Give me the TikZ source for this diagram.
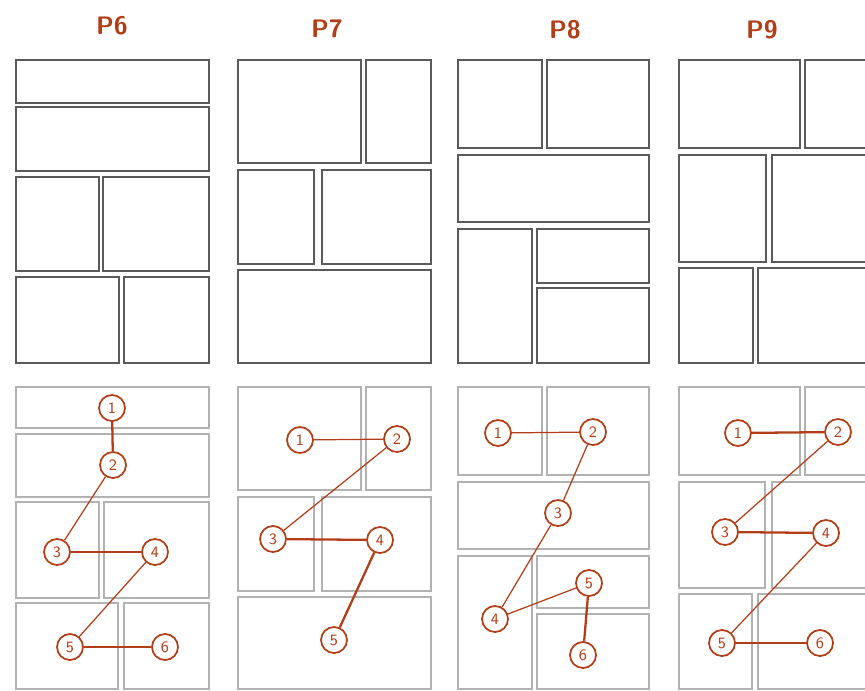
\documentclass[tikz,border=0pt]{standalone}
\usepackage{tikz}
\usetikzlibrary{positioning}
\definecolor{inkred}{RGB}{178,62,24}
\definecolor{frameA}{RGB}{90,90,90}
\definecolor{frameB}{RGB}{178,178,178}
\tikzset{
  pageln/.style={line width=1.2pt, frameA},
  thumbln/.style={line width=0.75pt, frameB},
  numc/.style={circle, draw=inkred, fill=white, line width=1pt, minimum size=0.52cm,
    inner sep=0pt, text=inkred, font=\sffamily\small},
  linkln/.style={inkred, line width=0.7pt},
  linkbold/.style={inkred, line width=1.3pt},
  pglabel/.style={text=inkred, font=\sffamily\Large\bfseries},
}
\newcommand{\pnl}[5]{\draw[#1] (#2,#3) rectangle (#4,#5);}

\begin{document}
\begin{tikzpicture}[x=0.02cm, y=-0.02cm]
    \useasboundingbox[fill=white] (0,0) rectangle (865,690);
    \clip (0,0) rectangle (865,690);
    % page labels
    \node[pglabel] (lab6) at (112,26) {P6};
    \node[pglabel] (lab7) at (327,29) {P7};
    \node[pglabel] (lab8) at (565,30) {P8};
    \node[pglabel] (lab9) at (762,30) {P9};
    % top row: page layouts
    \pnl{pageln}{16}{60}{209}{103}
    \pnl{pageln}{16}{107}{209}{171}
    \pnl{pageln}{16}{177}{99}{271}
    \pnl{pageln}{103}{177}{209}{271}
    \pnl{pageln}{16}{277}{119}{363}
    \pnl{pageln}{124}{277}{209}{363}
    \pnl{pageln}{238}{60}{361}{163}
    \pnl{pageln}{366}{60}{431}{163}
    \pnl{pageln}{238}{170}{314}{264}
    \pnl{pageln}{322}{170}{431}{264}
    \pnl{pageln}{238}{270}{431}{363}
    \pnl{pageln}{458}{60}{542}{148}
    \pnl{pageln}{547}{60}{649}{148}
    \pnl{pageln}{458}{155}{649}{222}
    \pnl{pageln}{458}{229}{532}{363}
    \pnl{pageln}{537}{229}{649}{283}
    \pnl{pageln}{537}{288}{649}{363}
    \pnl{pageln}{679}{60}{800}{148}
    \pnl{pageln}{805}{60}{890}{148}
    \pnl{pageln}{679}{155}{766}{262}
    \pnl{pageln}{772}{155}{890}{262}
    \pnl{pageln}{679}{268}{753}{363}
    \pnl{pageln}{758}{268}{890}{363}
    % bottom row: same pages, lighter
    \pnl{thumbln}{16}{387}{209}{428}
    \pnl{thumbln}{16}{434}{209}{497}
    \pnl{thumbln}{16}{502}{99}{598}
    \pnl{thumbln}{104}{502}{209}{598}
    \pnl{thumbln}{16}{603}{118}{689}
    \pnl{thumbln}{124}{603}{209}{689}
    \pnl{thumbln}{238}{387}{361}{490}
    \pnl{thumbln}{366}{387}{431}{490}
    \pnl{thumbln}{238}{497}{314}{591}
    \pnl{thumbln}{322}{497}{431}{591}
    \pnl{thumbln}{238}{597}{431}{689}
    \pnl{thumbln}{458}{387}{542}{475}
    \pnl{thumbln}{547}{387}{649}{475}
    \pnl{thumbln}{458}{482}{649}{549}
    \pnl{thumbln}{458}{556}{532}{689}
    \pnl{thumbln}{537}{556}{649}{608}
    \pnl{thumbln}{537}{614}{649}{689}
    \pnl{thumbln}{679}{387}{800}{475}
    \pnl{thumbln}{805}{387}{890}{475}
    \pnl{thumbln}{679}{482}{765}{588}
    \pnl{thumbln}{772}{482}{890}{588}
    \pnl{thumbln}{679}{594}{752}{689}
    \pnl{thumbln}{758}{594}{890}{689}
    % reading order, P6
    \node[numc] (a1) at (112,408) {1};
    \node[numc] (a2) at (113,465) {2};
    \node[numc] (a3) at (57,552) {3};
    \node[numc] (a4) at (155,552) {4};
    \node[numc] (a5) at (70,647) {5};
    \node[numc] (a6) at (165,647) {6};
    \draw[linkbold] (a1) -- (a2);
    \draw[linkln] (a2) -- (a3);
    \draw[linkbold] (a3) -- (a4);
    \draw[linkln] (a4) -- (a5);
    \draw[linkln] (a5) -- (a6);
    % reading order, P7
    \node[numc] (b1) at (300,440) {1};
    \node[numc] (b2) at (397,439) {2};
    \node[numc] (b3) at (273,539) {3};
    \node[numc] (b4) at (380,540) {4};
    \node[numc] (b5) at (334,640) {5};
    \draw[linkln] (b1) -- (b2);
    \draw[linkln] (b2) -- (b3);
    \draw[linkbold] (b3) -- (b4);
    \draw[linkbold] (b4) -- (b5);
    % reading order, P8
    \node[numc] (c1) at (498,433) {1};
    \node[numc] (c2) at (593,432) {2};
    \node[numc] (c3) at (558,513) {3};
    \node[numc] (c4) at (495,619) {4};
    \node[numc] (c5) at (589,583) {5};
    \node[numc] (c6) at (583,655) {6};
    \draw[linkln] (c1) -- (c2);
    \draw[linkln] (c2) -- (c3);
    \draw[linkln] (c3) -- (c4);
    \draw[linkln] (c4) -- (c5);
    \draw[linkbold] (c5) -- (c6);
    % reading order, P9
    \node[numc] (d1) at (738,433) {1};
    \node[numc] (d2) at (838,432) {2};
    \node[numc] (d3) at (725,532) {3};
    \node[numc] (d4) at (826,533) {4};
    \node[numc] (d5) at (722,643) {5};
    \node[numc] (d6) at (820,643) {6};
    \draw[linkbold] (d1) -- (d2);
    \draw[linkln] (d2) -- (d3);
    \draw[linkbold] (d3) -- (d4);
    \draw[linkln] (d4) -- (d5);
    \draw[linkln] (d5) -- (d6);
\end{tikzpicture}
\end{document}
